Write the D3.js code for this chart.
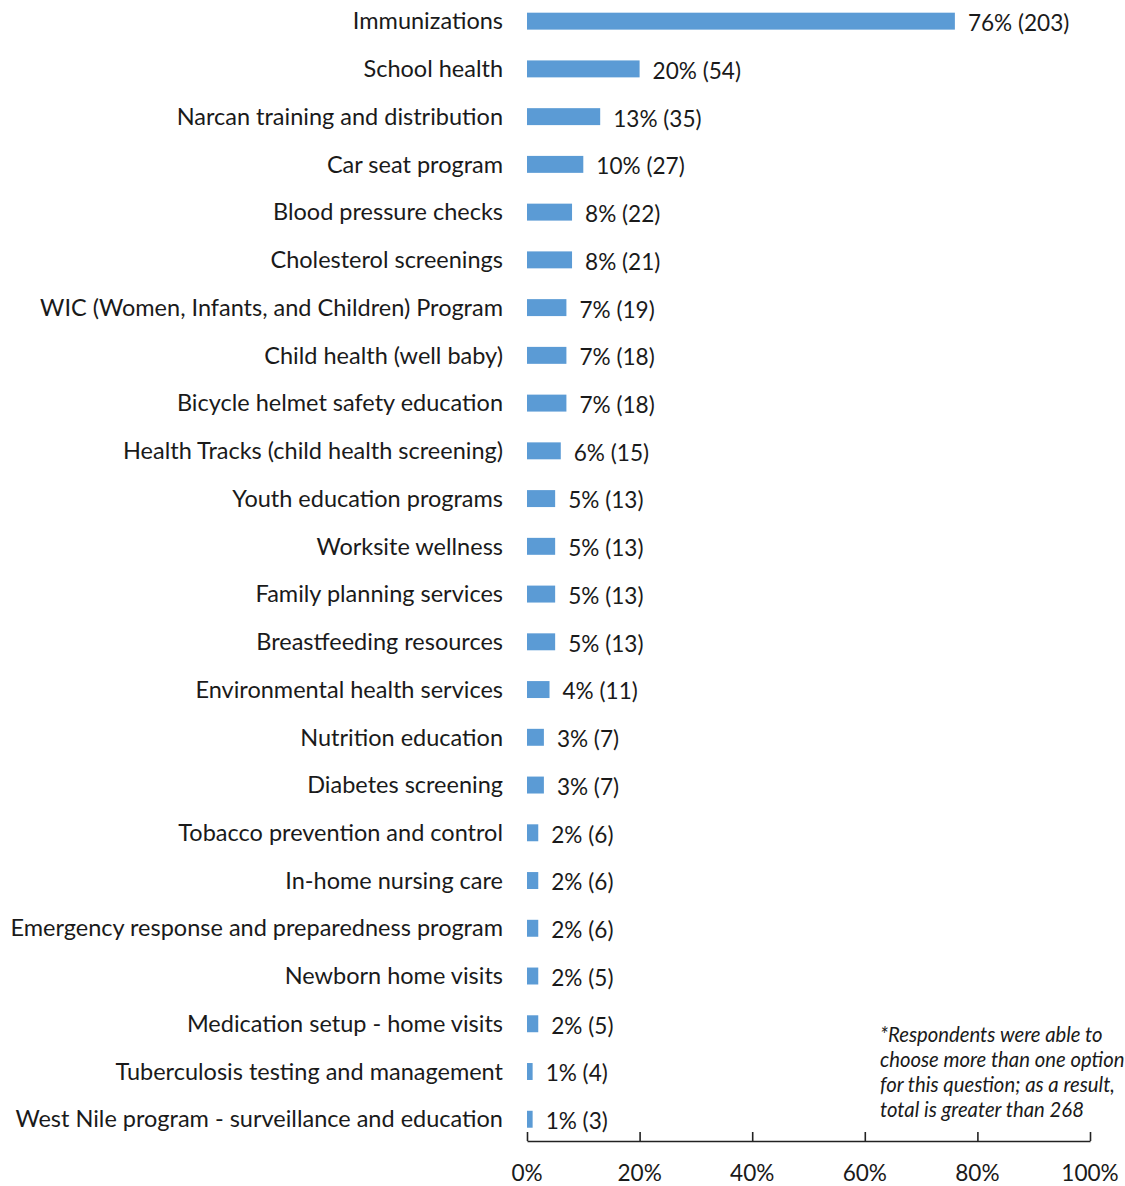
<!DOCTYPE html>
<html>
<head>
<meta charset="utf-8">
<script src="https://cdn.jsdelivr.net/npm/d3@7"></script>
<style>
  html, body { margin: 0; padding: 0; background: #fff; }
  svg { display: block; font-family: Lato, "Open Sans", sans-serif; }
</style>
</head>
<body>
<svg id="chart" width="1125" height="1186"></svg>
<script>
// Public health services used (share of 268 respondents, with counts)
const services = [
  "Immunizations",
  "School health",
  "Narcan training and distribution",
  "Car seat program",
  "Blood pressure checks",
  "Cholesterol screenings",
  "WIC (Women, Infants, and Children) Program",
  "Child health (well baby)",
  "Bicycle helmet safety education",
  "Health Tracks (child health screening)",
  "Youth education programs",
  "Worksite wellness",
  "Family planning services",
  "Breastfeeding resources",
  "Environmental health services",
  "Nutrition education",
  "Diabetes screening",
  "Tobacco prevention and control",
  "In-home nursing care",
  "Emergency response and preparedness program",
  "Newborn home visits",
  "Medication setup - home visits",
  "Tuberculosis testing and management",
  "West Nile program - surveillance and education"
];
const percents = [76, 20, 13, 10, 8, 8, 7, 7, 7, 6, 5, 5, 5, 5, 4, 3, 3, 2, 2, 2, 2, 2, 1, 1];
const counts   = [203, 54, 35, 27, 22, 21, 19, 18, 18, 15, 13, 13, 13, 13, 11, 7, 7, 6, 6, 6, 5, 5, 4, 3];
const tickValues = [0, 20, 40, 60, 80, 100];
const noteLines = [
  "*Respondents were able to",
  "choose more than one option",
  "for this question; as a result,",
  "total is greater than 268"
];

const rows = services.map((s, i) => ({ name: s, pct: percents[i], n: counts[i] }));

const svg = d3.select("#chart");
const x0 = 527, x1 = 1090, axisY = 1141;

const x = d3.scaleLinear().domain([0, 100]).range([x0, x1]);
const y = d3.scaleBand().domain(services).range([-2.6, 1143]).paddingInner(0.645).paddingOuter(0.32);

const barColor = "#5B9BD5";
const textColor = "#1a1a1a";

// bars
svg.append("g").selectAll("rect").data(rows).join("rect")
  .attr("x", x(0))
  .attr("y", d => y(d.name))
  .attr("width", d => x(d.pct) - x(0))
  .attr("height", y.bandwidth())
  .attr("fill", barColor);

// category labels
svg.append("g").selectAll("text").data(rows).join("text")
  .attr("x", 503)
  .attr("y", d => y(d.name) + y.bandwidth() / 2)
  .attr("dy", "0.35em")
  .attr("text-anchor", "end")
  .attr("font-size", 23.5)
  .attr("fill", textColor)
  .text(d => d.name);

// value labels
svg.append("g").selectAll("text").data(rows).join("text")
  .attr("x", d => x(d.pct) + 13)
  .attr("y", d => y(d.name) + y.bandwidth() / 2 + 2)
  .attr("dy", "0.35em")
  .attr("font-size", 22.6)
  .attr("fill", textColor)
  .text(d => `${d.pct}% (${d.n})`);

// x axis: ticks point up from the baseline
const axis = d3.axisTop(x).tickValues(tickValues).tickSize(9).tickSizeOuter(0).tickFormat(d => d + "%");
const gAxis = svg.append("g").attr("transform", `translate(0,${axisY})`).call(axis);
gAxis.select(".domain").attr("stroke", "#222").attr("stroke-width", 1.6);
gAxis.selectAll(".tick line").attr("stroke", "#222").attr("stroke-width", 1.6);
gAxis.selectAll(".tick text").remove();

svg.append("g").selectAll("text").data(tickValues).join("text")
  .attr("x", d => x(d))
  .attr("y", 1173)
  .attr("dy", "0.35em")
  .attr("text-anchor", "middle")
  .attr("font-size", 22.6)
  .attr("fill", textColor)
  .text(d => d + "%");

// footnote
svg.append("g").selectAll("text").data(noteLines).join("text")
  .attr("x", 880)
  .attr("y", (d, i) => 1035 + i * 24.8)
  .attr("dy", "0.35em")
  .attr("font-size", 20.3)
  .attr("font-style", "italic")
  .attr("fill", textColor)
  .text(d => d);
</script>
</body>
</html>
